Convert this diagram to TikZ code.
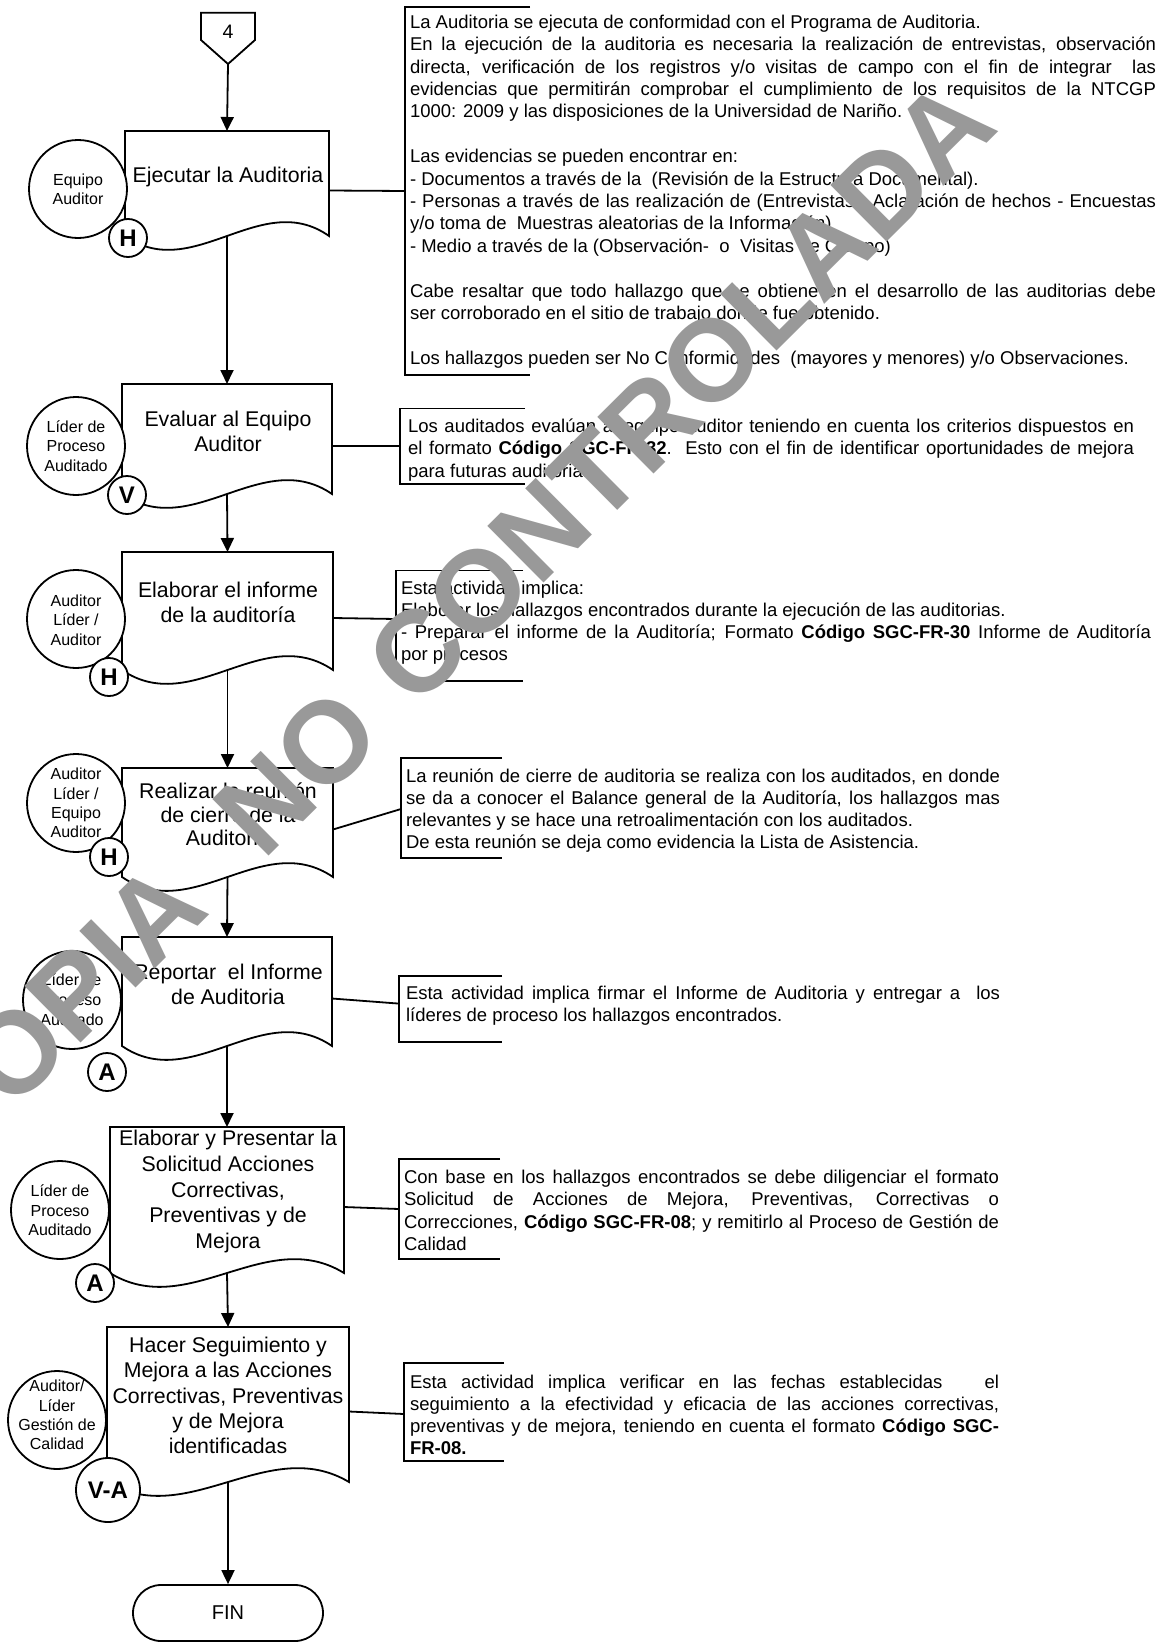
\documentclass[tikz,border=0pt]{standalone}
\usepackage{fontspec}
\setmainfont{Liberation Sans}
\usetikzlibrary{arrows.meta,shapes.misc}
\definecolor{wmgray}{RGB}{153,153,153}
\newdimen\jw
\newcommand\J[1]{\hbox to \jw{#1}}
\newcommand\btext[3]{\vtop{\fontsize{18.5}{#1}\selectfont\jw=#2\relax #3}}
\newcommand\ctext[3]{\vtop{\fontsize{#1}{#2}\selectfont\halign{\hfil##\hfil\cr#3\crcr}}}
\newcommand\docshape[5]{%
  \node[docframe, anchor=north west, minimum width={#3-#2}, minimum height={#5-#4+14}] (#1) at (#2,#4) {};
  \draw[line] (#2,#4) -- (#3,#4) -- (#3,#5) .. controls ({#3-(#3-#2)/3},{#5-48}) and ({#2+(#3-#2)/3},{#5+48}) .. (#2,#5) -- cycle;
}
\tikzset{
  line/.style={line width=1.8pt, draw=black, line join=miter},
  arr/.style={line, -{Triangle[length=14pt,width=13pt]}},
  docframe/.style={rectangle, inner sep=0pt, outer sep=0pt, draw=none},
  rolecirc/.style={circle, draw=black, line width=1.8pt, fill=white, minimum size=98pt, inner sep=0pt},
  lcirc/.style={circle, draw=black, line width=1.8pt, fill=white, minimum size=38pt, inner sep=0pt, font=\fontsize{24}{24}\selectfont\bfseries},
  txt/.style={inner sep=0pt, outer sep=0pt},
  terminal/.style={rounded rectangle, draw=black, line width=1.8pt, minimum width=190pt, minimum height=56pt, inner sep=0pt, font=\fontsize{20}{20}\selectfont},
  wm/.style={inner sep=0pt, text=wmgray, font=\fontsize{116}{116}\selectfont\bfseries}
}
\begin{document}
\begin{tikzpicture}[x=1pt, y=-1pt]
\useasboundingbox (0,0) rectangle (1174,1643);
\fill[white] (0,0) rectangle (1174,1643);

% ---------- brackets (annotations) ----------
\draw[line] (530,6.7) -| (405,375) -- (530,375);
\coordinate (b1) at (405,191);
\draw[line] (525,408.5) -| (400,484) -- (525,484);
\coordinate (b2) at (400,446);
\draw[line] (523,570.5) -| (396,681) -- (523,681);
\coordinate (b3) at (396,619);
\draw[line] (502,758) -| (401,858) -- (502,858);
\coordinate (b4) at (401,809);
\draw[line] (502,976) -| (399,1042) -- (502,1042);
\coordinate (b5) at (399,1003.6);
\draw[line] (500,1159) -| (399,1259) -- (500,1259);
\coordinate (b6) at (399,1209);
\draw[line] (504,1363) -| (404,1461) -- (504,1461);
\coordinate (b7) at (404,1414);

% ---------- off-page connector ----------
\draw[line] (201,12.7) -- (255,12.7) -- (255,40) -- (228,64) -- (201,40) -- cycle;
\coordinate (c4) at (228,64);
\node[txt, font=\fontsize{19.5}{19.5}\selectfont] (n4) at (228,32) {4};

% ---------- documents ----------
\docshape{d1}{125}{329}{131}{236}
\docshape{d2}{122}{332}{384}{494}
\docshape{d3}{122}{333}{552}{670}
\docshape{d4}{122}{333}{768}{877}
\docshape{d5}{122}{332}{937}{1046}
\docshape{d6}{110}{344}{1127}{1273}
\docshape{d7}{107}{349}{1327}{1482}

\node[terminal] (fin) at (228,1613) {FIN};

% ---------- flow arrows ----------
\draw[arr] (c4) -- (d1.north);
\draw[arr] ([yshift=14pt]d1.south) -- (d2.north);
\draw[arr] ([yshift=14pt]d2.south) -- (d3.north);
\draw[arr] ([yshift=14pt]d3.south) -- (d4.north);
\draw[arr] ([yshift=14pt]d4.south) -- (d5.north);
\draw[arr] ([yshift=14pt]d5.south) -- (d6.north);
\draw[arr] ([yshift=14pt]d6.south) -- (d7.north);
\draw[arr] ([yshift=14pt]d7.south) -- (fin.north);

% ---------- connectors to annotations ----------
\draw[line] (d1.east) -- (b1);
\draw[line] (d2.east) -- (b2);
\draw[line] (d3.east) -- (b3);
\draw[line] (d4.east) -- (b4);
\draw[line] (d5.east) -- (b5);
\draw[line] (d6.east) -- (b6);
\draw[line] (d7.east) -- (b7);

% ---------- document texts ----------
\node[txt, anchor=base] (d1t) at (228,182.6) {\ctext{21.3}{25}{Ejecutar la Auditoria}};
\node[txt, anchor=base] (d2t) at (228,426.6) {\ctext{21.3}{24.5}{Evaluar al Equipo\cr Auditor}};
\node[txt, anchor=base] (d3t) at (228,597.6) {\ctext{21.3}{25}{Elaborar el informe\cr de la auditoría}};
\node[txt, anchor=base] (d4t) at (228,798.6) {\ctext{21.3}{23.5}{Realizar la reunión\cr de cierre de la\cr Auditoria}};
\node[txt, anchor=base] (d5t) at (228,979.3) {\ctext{21.3}{25}{Reportar\ \ el Informe\cr de Auditoria}};
\node[txt, anchor=base] (d6t) at (228,1145.9) {\ctext{21.3}{25.6}{Elaborar y Presentar la\cr Solicitud Acciones\cr Correctivas,\cr Preventivas y de\cr Mejora}};
\node[txt, anchor=base] (d7t) at (228,1352.6) {\ctext{21.3}{25.2}{Hacer Seguimiento y\cr Mejora a las Acciones\cr Correctivas, Preventivas\cr y de Mejora\cr identificadas}};

% ---------- role circles ----------
\node[rolecirc] (r1) at (78,189) {};
\node[rolecirc] (r2) at (76,446) {};
\node[rolecirc] (r3) at (76,619) {};
\node[rolecirc] (r4) at (76,803) {};
\node[rolecirc] (r5) at (72,1000) {};
\node[rolecirc] (r6) at (60,1210) {};
\node[rolecirc] (r7) at (57,1420) {};
\node[txt, anchor=base] (r1t) at (78,185.7) {\ctext{16}{18.5}{Equipo\cr Auditor}};
\node[txt, anchor=base] (r2t) at (76,432.4) {\ctext{16}{19.5}{Líder de\cr Proceso\cr Auditado}};
\node[txt, anchor=base] (r3t) at (76,606.4) {\ctext{16}{19.3}{Auditor\cr Líder /\cr Auditor}};
\node[txt, anchor=base] (r4t) at (76,779.7) {\ctext{16}{19.3}{Auditor\cr Líder /\cr Equipo\cr Auditor}};
\node[txt, anchor=base] (r5t) at (72,985.7) {\ctext{16}{19.7}{Líder de\cr Proceso\cr Auditado}};
\node[txt, anchor=base] (r6t) at (60,1196.4) {\ctext{16}{19.7}{Líder de\cr Proceso\cr Auditado}};
\node[txt, anchor=base] (r7t) at (57,1391.7) {\ctext{16}{19.3}{Auditor/\cr Líder\cr Gestión de\cr Calidad}};

% ---------- PHVA circles ----------
\node[lcirc] (h1) at (128,238) {H};
\node[lcirc] (h2) at (127,495) {V};
\node[lcirc] (h3) at (109,677) {H};
\node[lcirc] (h4) at (109,857) {H};
\node[lcirc] (h5) at (107,1072) {A};
\node[lcirc] (h6) at (95,1283) {A};
\node[lcirc, minimum size=64pt] (h7) at (108,1490) {V-A};

% ---------- annotation texts ----------
\node[txt, anchor=base west] (t1) at (410,28.3) {\btext{22.4}{746pt}{%
\hbox{La Auditoria se ejecuta de conformidad con el Programa de Auditoria.}
\J{En la ejecución de la auditoria es necesaria la realización de entrevistas, observación}
\J{directa, verificación de los registros y/o visitas de campo con el fin de integrar\ \ las}
\J{evidencias que permitirán comprobar el cumplimiento de los requisitos de la NTCGP}
\hbox{1000: 2009 y las disposiciones de la Universidad de Nariño.}
\hbox{}
\hbox{Las evidencias se pueden encontrar en:}
\hbox{- Documentos a través de la\ \ (Revisión de la Estructura Documental).}
\J{- Personas a través de las realización de (Entrevistas - Aclaración de hechos - Encuestas}
\hbox{y/o toma de\ \ Muestras aleatorias de la Información)}
\hbox{- Medio a través de la (Observación-\ \ o\ \ Visitas de Campo)}
\hbox{}
\J{Cabe resaltar que todo hallazgo que se obtiene en el desarrollo de las auditorias debe}
\hbox{ser corroborado en el sitio de trabajo donde fue obtenido.}
\hbox{}
\hbox{Los hallazgos pueden ser No Conformidades\ \ (mayores y menores) y/o Observaciones.}}};

\node[txt, anchor=base west] (t2) at (408,432) {\btext{22.5}{726pt}{%
\J{Los auditados evalúan al equipo auditor teniendo en cuenta los criterios dispuestos en}
\J{el formato \textbf{Código SGC-FR-32}.\ \ Esto con el fin de identificar oportunidades de mejora}
\hbox{para futuras auditorias.}}};

\node[txt, anchor=base west] (t3) at (401,594) {\btext{22}{750pt}{%
\hbox{Esta actividad implica:}
\hbox{Elaborar los hallazgos encontrados durante la ejecución de las auditorias.}
\J{- Preparar el informe de la Auditoría; Formato \textbf{Código SGC-FR-30} Informe de Auditoría}
\hbox{por procesos}}};

\node[txt, anchor=base west] (t4) at (406,782.7) {\btext{22}{594pt}{%
\J{La reunión de cierre de auditoria se realiza con los auditados, en donde}
\J{se da a conocer el Balance general de la Auditoría, los hallazgos mas}
\hbox{relevantes y se hace una retroalimentación con los auditados.}
\hbox{De esta reunión se deja como evidencia la Lista de Asistencia.}}};

\node[txt, anchor=base west] (t5) at (406,999) {\btext{22.5}{594pt}{%
\J{Esta actividad implica firmar el Informe de Auditoria y entregar a\ \ los}
\hbox{líderes de proceso los hallazgos encontrados.}}};

\node[txt, anchor=base west] (t6) at (404,1183) {\btext{22.6}{595pt}{%
\J{Con base en los hallazgos encontrados se debe diligenciar el formato}
\J{Solicitud de Acciones de Mejora, Preventivas, Correctivas o}
\J{Correcciones, \textbf{Código SGC-FR-08}; y remitirlo al Proceso de Gestión de}
\hbox{Calidad}}};

\node[txt, anchor=base west] (t7) at (410,1388) {\btext{22}{589pt}{%
\J{Esta actividad implica verificar en las fechas establecidas\ \ \ el}
\J{seguimiento a la efectividad y eficacia de las acciones correctivas,}
\J{preventivas y de mejora, teniendo en cuenta el formato \textbf{Código SGC-}}
\hbox{\textbf{FR-08.}}}};

% ---------- watermark ----------
\node[wm, rotate=44.8] (wmk) at (448,622) {COPIA\hspace{72pt}NO\hspace{40pt}CONTROLADA};
\end{tikzpicture}
\end{document}
